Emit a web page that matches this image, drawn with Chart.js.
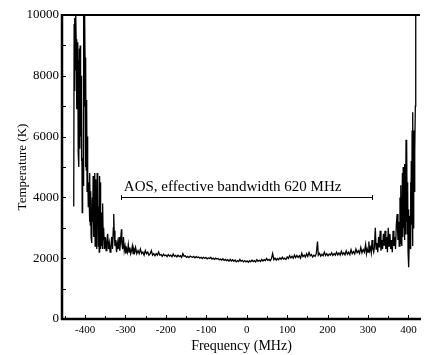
<!DOCTYPE html>
<html>
<head>
<meta charset="utf-8">
<script src="https://cdn.jsdelivr.net/npm/chart.js@4/dist/chart.umd.min.js"></script>
<style>
  html, body { margin: 0; padding: 0; background: #fff; }
  #c { display: block; }
</style>
</head>
<body>
<canvas id="c" width="426" height="355"></canvas>
<script>
// ---- Data ----
const frequencyMHz = [
  -428,-427,-426,-425,-424,-423,-422,-421,-420,-419,-418,-417,-416,-415,-414,-413,-412,-411,-410,-409,
  -408,-407,-406,-405,-404,-403,-402,-401,-400,-399,-398,-397,-396,-395,-394,-393,-392,-391,-390,-389,
  -388,-387,-386,-385,-384,-383,-382,-381,-380,-379,-378,-377,-376,-375,-374,-373,-372,-371,-370,-369,
  -368,-367,-366,-365,-364,-363,-362,-361,-360,-359,-358,-357,-356,-355,-354,-352,-350,-348,-346,-344,
  -342,-340,-338,-336,-334,-332,-330,-329,-328,-326,-324,-322,-320,-318,-316,-314,-312,-310,-309,-307,
  -305,-303,-301,-299,-297,-295,-293,-291,-289,-287,-285,-283,-281,-279,-277,-275,-272,-269,-266,-263,
  -260,-257,-254,-251,-248,-245,-242,-239,-236,-233,-230,-227,-224,-221,-218,-215,-212,-209,-206,-203,
  -200,-197,-194,-191,-188,-185,-182,-179,-176,-173,-170,-167,-164,-161,-158,-155,-152,-149,-146,-143,
  -140,-137,-134,-131,-128,-125,-122,-119,-116,-113,-110,-107,-104,-101,-98,-95,-92,-89,-86,-83,
  -80,-77,-74,-71,-68,-65,-62,-59,-56,-53,-50,-47,-44,-41,-38,-35,-32,-29,-26,-23,
  -20,-17,-14,-11,-8,-5,-2,1,4,7,10,13,16,19,22,25,28,31,34,37,
  40,43,46,49,52,55,58,61,64,67,70,73,76,79,82,85,88,91,94,97,
  100,103,106,109,112,115,118,121,124,127,130,133,136,139,142,145,148,151,154,157,
  160,163,166,169,172,175,177,180,183,186,189,192,195,198,201,204,207,210,213,216,
  219,222,225,228,231,234,237,240,243,246,249,252,255,258,261,264,267,270,273,276,
  279,282,285,288,291,294,296,298,300,302,304,306,308,310,312,314,316,318,320,322,
  324,326,328,330,332,334,336,338,340,342,344,346,348,350,352,354,356,358,360,362,
  364,366,368,370,372,374,376,377,379,380,381,382,383,384,385,386,387,388,389,390,
  391,392,393,394,395,396,397,398,399,400,401,402,403,404,405,406,407,408,409,410,
  411,412,413,414,415,416,417,418
];
const temperatureK = [
  3700,9700,7500,9900,8200,10000,9200,6900,8800,7600,9100,5500,8500,5000,8900,5600,9000,6000,8000,5200,
  7300,3500,5300,4400,9800,10000,7000,10000,8600,5000,8300,4900,7200,4200,6000,4800,3700,4500,4000,3200,
  4800,3100,4200,2700,3500,2500,4000,3200,4700,2700,4400,3000,4800,2400,4600,2500,3600,2300,4800,3400,
  4700,2400,3700,2200,4700,3000,4500,2300,3500,2400,3100,2300,3800,2600,3000,2300,2700,2250,2600,2800,
  2300,2500,2200,2400,2700,2300,3000,3450,2900,2400,2600,2200,2500,2300,2700,2250,2600,2950,2500,2300,
  2700,2250,2400,2150,2300,2200,2450,2200,2350,2150,2250,2400,2150,2300,2200,2350,2150,2250,2150,2300,
  2150,2200,2100,2250,2150,2200,2100,2150,2250,2100,2150,2080,2150,2100,2200,2100,2120,2060,2130,2080,
  2100,2050,2120,2070,2100,2050,2140,2060,2090,2040,2100,2050,2080,2030,2150,2060,2080,2030,2060,2020,
  2070,2040,2030,2060,2010,2050,2020,2040,2000,2030,1990,2030,2000,2020,1980,2010,1990,2030,1970,2000,
  1960,2000,1970,1990,1950,1970,1940,1980,1930,1960,1920,1950,1900,1960,1910,1950,1900,1940,1880,1920,
  1890,1960,1900,1930,1880,1920,1880,1910,1870,1920,1880,1940,1890,1920,1880,1950,1900,1930,1890,1960,
  1910,1950,1920,1990,1930,1960,1920,1980,2150,1950,2000,1940,1990,1950,2010,1960,2030,1970,2000,1960,
  2040,1990,2080,2010,2060,2000,2100,2020,2090,2030,2080,2000,2160,2050,2100,2040,2150,2060,2190,2080,
  2120,2040,2100,2060,2150,2550,2100,2160,2070,2130,2080,2200,2090,2150,2080,2140,2100,2180,2090,2150,
  2100,2200,2110,2170,2100,2230,2120,2180,2110,2240,2130,2200,2120,2280,2150,2220,2140,2300,2180,2250,
  2160,2350,2180,2280,2200,2450,2150,2300,2200,2550,2250,2350,2180,2600,2300,2200,2400,3000,2300,2500,
  2200,2700,2350,2900,2250,2600,2300,2800,2400,2900,2300,2700,2200,3000,2400,2800,2300,2600,2200,2900,
  2400,2700,2300,3100,3450,2600,3200,2400,4000,2500,4400,2800,3700,2400,4800,2700,5000,3000,4200,2600,
  5100,2800,3900,5900,3200,5800,2800,4500,2200,3600,1700,2600,3400,2400,4500,2300,5200,3100,6200,2400,
  6800,3000,6200,4200,5300,5500,7000,10000
];
const xTickValues = [-400,-300,-200,-100,0,100,200,300,400];
const xMinorTickValues = [-450,-350,-250,-150,-50,50,150,250,350];
const yTickValues = [0,2000,4000,6000,8000,10000];
const yMinorTickValues = [1000,3000,5000,7000,9000];
const xAxisTitle = 'Frequency (MHz)';
const yAxisTitle = 'Temperature (K)';
const annotationLabel = 'AOS, effective bandwidth 620 MHz';
const bandEdgesMHz = [-310, 310];
const bandLevelK = 4000;
const labelStartMHz = -304;

const SERIF = '"Liberation Serif", "Times New Roman", serif';

const framePlugin = {
  id: 'frame',
  afterDatasetsDraw(chart) {
    const {ctx, chartArea: a, scales: {x, y}} = chart;
    ctx.save();
    ctx.strokeStyle = '#000';
    ctx.fillStyle = '#000';
    // band annotation
    const yb = Math.round(y.getPixelForValue(bandLevelK)) + 0.5;
    const x0 = x.getPixelForValue(bandEdgesMHz[0]);
    const x1 = x.getPixelForValue(bandEdgesMHz[1]);
    ctx.lineWidth = 1;
    ctx.beginPath();
    ctx.moveTo(x0, yb); ctx.lineTo(x1, yb);
    ctx.moveTo(Math.round(x0) + 0.5, yb - 2.5); ctx.lineTo(Math.round(x0) + 0.5, yb + 2.5);
    ctx.moveTo(Math.round(x1) + 0.5, yb - 2.5); ctx.lineTo(Math.round(x1) + 0.5, yb + 2.5);
    ctx.stroke();
    ctx.font = '15px ' + SERIF;
    ctx.textAlign = 'left';
    ctx.textBaseline = 'alphabetic';
    ctx.fillText(annotationLabel, x.getPixelForValue(labelStartMHz), yb - 7);
    // inward ticks
    ctx.lineWidth = 1;
    ctx.beginPath();
    xTickValues.forEach(v => {
      const px = Math.round(x.getPixelForValue(v)) + 0.5;
      ctx.moveTo(px, a.bottom); ctx.lineTo(px, a.bottom - 4);
    });
    xMinorTickValues.forEach(v => {
      const px = Math.round(x.getPixelForValue(v)) + 0.5;
      ctx.moveTo(px, a.bottom); ctx.lineTo(px, a.bottom - 3);
    });
    yTickValues.concat(yMinorTickValues).forEach(v => {
      const py = Math.round(y.getPixelForValue(v)) + 0.5;
      ctx.moveTo(a.left, py); ctx.lineTo(a.left + 4, py);
    });
    ctx.stroke();
    // frame: left, bottom, top
    ctx.lineWidth = 2.5;
    ctx.beginPath();
    ctx.moveTo(a.left, a.top - 1); ctx.lineTo(a.left, a.bottom + 1);
    ctx.moveTo(a.left - 1, a.bottom); ctx.lineTo(a.right, a.bottom);
    ctx.stroke();
    ctx.lineWidth = 2;
    ctx.beginPath();
    ctx.moveTo(a.left, a.top); ctx.lineTo(a.right - 1, a.top);
    ctx.stroke();
    ctx.restore();
  }
};

new Chart(document.getElementById('c'), {
  type: 'line',
  data: {
    datasets: [{
      data: frequencyMHz.map((f, i) => ({ x: f, y: temperatureK[i] })),
      borderColor: '#000',
      borderWidth: 1.3,
      pointRadius: 0,
      tension: 0,
      fill: false
    }]
  },
  options: {
    responsive: false,
    animation: false,
    devicePixelRatio: 1,
    layout: { padding: { left: 0, top: 15, right: 5, bottom: 0 } },
    plugins: { legend: { display: false }, tooltip: { enabled: false }, title: { display: false } },
    scales: {
      x: {
        type: 'linear',
        min: -457,
        max: 431,
        afterBuildTicks: s => { s.ticks = xTickValues.map(v => ({ value: v })); },
        afterFit: s => { s.height = 36; },
        grid: { display: false, drawTicks: false },
        border: { display: false },
        ticks: {
          color: '#000',
          padding: 5,
          maxRotation: 0,
          autoSkip: false,
          font: { family: SERIF, size: 11 },
          callback: v => String(v)
        },
        title: {
          display: true,
          text: xAxisTitle,
          color: '#000',
          padding: { top: 0, bottom: 0 },
          font: { family: SERIF, size: 14 }
        }
      },
      y: {
        min: 0,
        max: 10000,
        afterBuildTicks: s => { s.ticks = yTickValues.map(v => ({ value: v })); },
        afterFit: s => { s.width = 62; },
        grid: { display: false, drawTicks: false },
        border: { display: false },
        ticks: {
          color: '#000',
          padding: 3,
          autoSkip: false,
          font: { family: SERIF, size: 13 },
          callback: v => String(v)
        },
        title: {
          display: true,
          text: yAxisTitle,
          color: '#000',
          padding: { top: 15, bottom: 0 },
          font: { family: SERIF, size: 13 }
        }
      }
    }
  },
  plugins: [framePlugin]
});
</script>
</body>
</html>
